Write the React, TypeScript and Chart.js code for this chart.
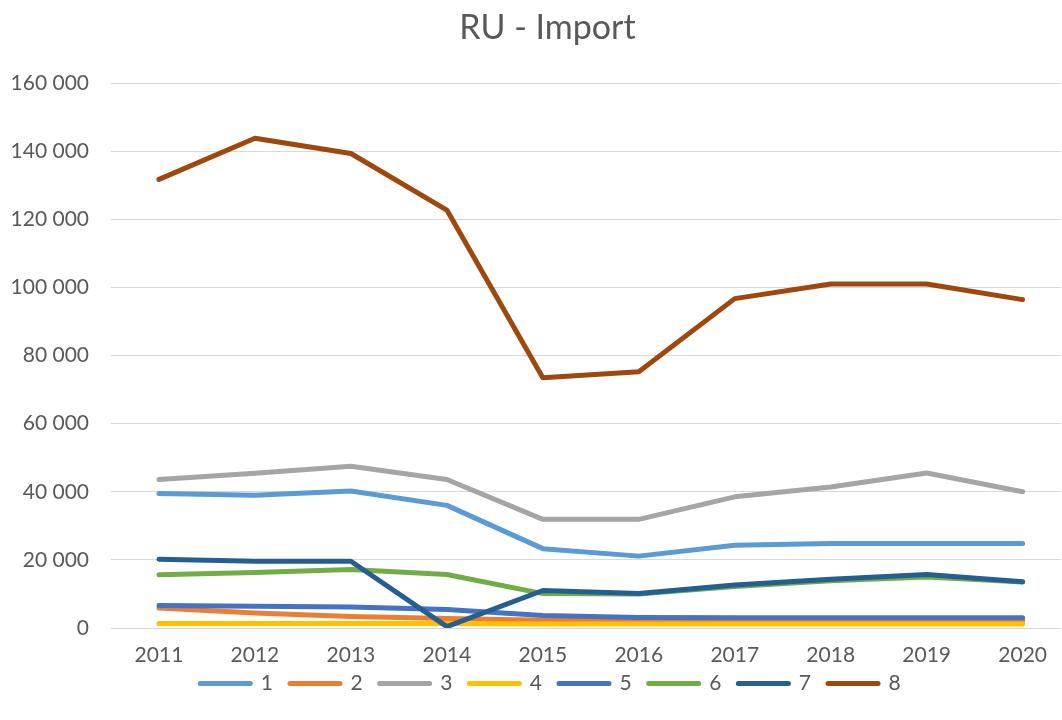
import React, { useEffect, useRef } from "react";
import { Chart, registerables } from "chart.js";

Chart.register(...registerables);

const years = [2011, 2012, 2013, 2014, 2015, 2016, 2017, 2018, 2019, 2020];
const seriesNames = ["1", "2", "3", "4", "5", "6", "7", "8"];
const seriesColors = ["#5B9BD5", "#ED7D31", "#A5A5A5", "#FFC000", "#4472C4", "#70AD47", "#255E91", "#9E480E"];

const s1 = [39500, 39000, 40200, 36000, 23300, 21100, 24300, 24800, 24800, 24800];
const s2 = [5900, 4400, 3400, 2800, 2300, 2200, 2200, 2200, 2200, 2200];
const s3 = [43600, 45400, 47500, 43600, 31900, 31900, 38500, 41400, 45500, 40000];
const s4 = [1300, 1300, 1300, 1300, 1200, 1200, 1200, 1200, 1200, 1200];
const s5 = [6600, 6400, 6200, 5400, 3700, 3100, 3000, 3000, 3000, 3000];
const s6 = [15600, 16300, 17200, 15700, 10100, 10000, 12200, 13900, 15000, 13500];
const s7 = [20200, 19600, 19600, 400, 11000, 10100, 12600, 14300, 15700, 13600];
const s8 = [131700, 143800, 139300, 122700, 73500, 75200, 96700, 101000, 101000, 96400];
const seriesValues = [s1, s2, s3, s4, s5, s6, s7, s8];

const yTicks = [0, 20000, 40000, 60000, 80000, 100000, 120000, 140000, 160000];

const TEXT = "#595959";
const FONT = "Lato";

const fmt = (v: number) => String(Math.round(v)).replace(/\B(?=(\d{3})+(?!\d))/g, " ");

const shiftBoxes = {
  id: "shiftBoxes",
  afterLayout(chart: any) {
    const lg = chart.legend;
    if (lg) {
      lg.left += 14;
      lg.right += 14;
      lg.top -= 12;
      lg.bottom -= 12;
    }
    const tb = chart.titleBlock;
    if (tb) {
      tb.left += 11;
      tb.right += 11;
    }
  },
};

export default function App() {
  const ref = useRef<HTMLCanvasElement | null>(null);

  useEffect(() => {
    document.body.style.margin = "0";
    const canvas = ref.current;
    if (!canvas) return;
    const chart = new Chart(canvas, {
      type: "line",
      data: {
        datasets: seriesValues.map((vals, i) => ({
          label: seriesNames[i],
          data: vals.map((v, j) => ({ x: years[j], y: v })),
          borderColor: seriesColors[i],
          backgroundColor: seriesColors[i],
          borderWidth: 5,
          borderCapStyle: "round" as const,
          borderJoinStyle: "round" as const,
          pointRadius: 0,
          pointHoverRadius: 0,
          tension: 0,
          fill: false,
          order: seriesNames.length - i,
        })),
      },
      options: {
        responsive: false,
        animation: false,
        events: [],
        layout: { padding: { left: 11, right: 0, top: 0, bottom: 4 } },
        scales: {
          x: {
            type: "linear",
            min: 2010.5,
            max: 2020.4,
            grid: { display: false, drawTicks: false },
            border: { display: false },
            afterBuildTicks: (scale: any) => {
              scale.ticks = years.map((v) => ({ value: v }));
            },
            afterFit: (scale: any) => {
              scale.height = 40;
            },
            ticks: {
              color: TEXT,
              font: { family: FONT, size: 21 },
              padding: 15,
              autoSkip: false,
              maxRotation: 0,
              callback: (v: any) => String(v),
            },
          },
          y: {
            min: 0,
            max: 160000,
            afterBuildTicks: (scale: any) => {
              scale.ticks = yTicks.map((v) => ({ value: v }));
            },
            afterFit: (scale: any) => {
              scale.width = 100;
            },
            grid: { color: "#D9D9D9", lineWidth: 1, drawTicks: false },
            border: { display: false },
            ticks: {
              color: TEXT,
              font: { family: FONT, size: 21 },
              padding: 22,
              callback: (v: any) => fmt(Number(v)),
            },
          },
        },
        plugins: {
          title: {
            display: true,
            text: "RU - Import",
            color: TEXT,
            font: { family: FONT, size: 34, weight: "normal" },
            padding: { top: 8, bottom: 34.2 },
          },
          legend: {
            display: true,
            position: "bottom",
            labels: {
              usePointStyle: true,
              pointStyle: "line",
              pointStyleWidth: 50,
              padding: 17,
              color: TEXT,
              font: { family: FONT, size: 21 },
              generateLabels: (c: any) => {
                const base = Chart.defaults.plugins.legend.labels.generateLabels(c);
                return base
                  .map((l: any) => ({
                    ...l,
                    lineWidth: 5,
                    lineCap: "round",
                    strokeStyle: seriesColors[l.datasetIndex],
                    fillStyle: seriesColors[l.datasetIndex],
                  }))
                  .sort((a: any, b: any) => a.datasetIndex - b.datasetIndex);
              },
            },
          },
          tooltip: { enabled: false },
        },
      },
      plugins: [shiftBoxes],
    } as any);
    return () => chart.destroy();
  }, []);

  return (
    <div style={{ position: "absolute", left: 0, top: 0, width: 1062, height: 720, background: "#fff" }}>
      <canvas ref={ref} width={1062} height={720} style={{ display: "block" }} />
    </div>
  );
}
